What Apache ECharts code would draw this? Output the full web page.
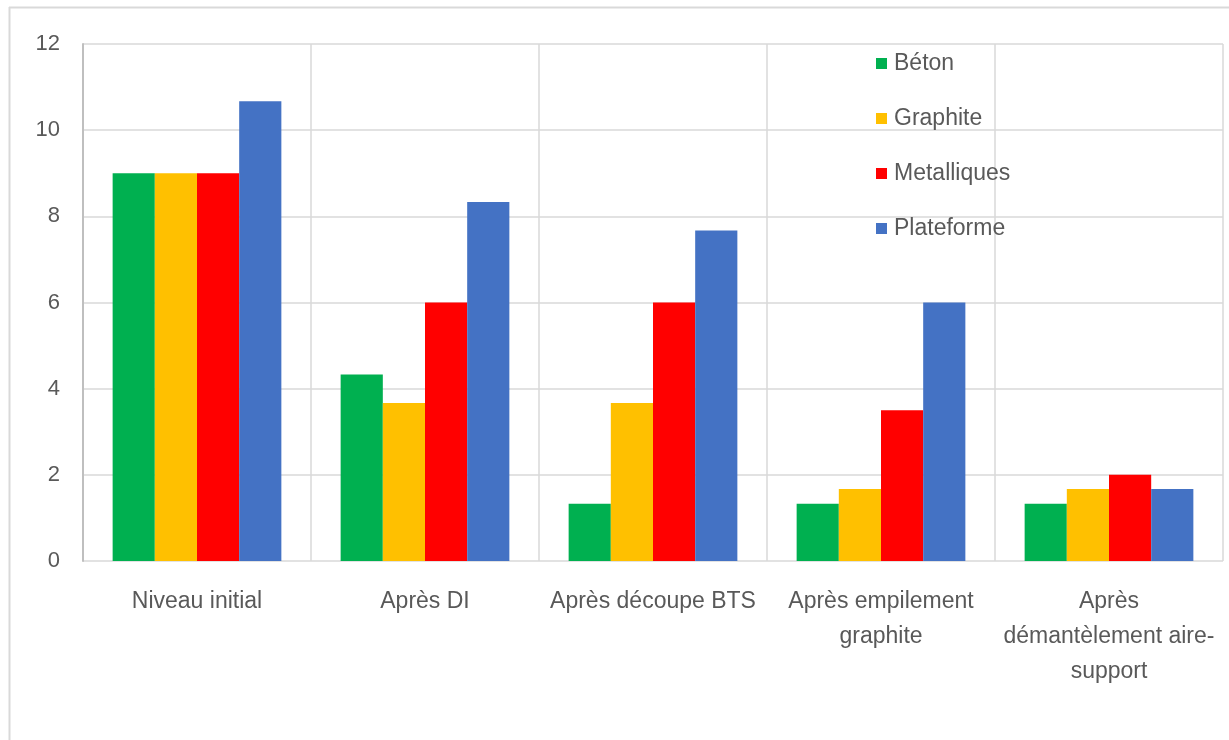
<!DOCTYPE html>
<html>
<head>
<meta charset="utf-8">
<script src="https://cdn.jsdelivr.net/npm/echarts@6/dist/echarts.min.js"></script>
<style>
  html, body { margin: 0; padding: 0; background: #ffffff; }
  #chart { width: 1229px; height: 740px; }
</style>
</head>
<body>
<div id="chart"></div>
<script>
// Stages of the dismantling sequence (x-axis categories)
const categories = [
  'Niveau initial',
  'Après DI',
  'Après découpe BTS',
  'Après empilement\ngraphite',
  'Après\ndémantèlement aire-\nsupport'
];

// Values per waste family
const beton       = [9, 4.33, 1.33, 1.33, 1.33];
const graphite    = [9, 3.67, 3.67, 1.67, 1.67];
const metalliques = [9, 6, 6, 3.5, 2];
const plateforme  = [10.67, 8.33, 7.67, 6, 1.67];

const seriesNames = ['Béton', 'Graphite', 'Metalliques', 'Plateforme'];
const seriesData = [beton, graphite, metalliques, plateforme];
const colors = ['#00B050', '#FFC000', '#FF0000', '#4472C4'];

const textGray = '#595959';
const font = 'Liberation Sans, Arial, sans-serif';

const chart = echarts.init(document.getElementById('chart'), null, { renderer: 'canvas' });

chart.setOption({
  animation: false,
  backgroundColor: '#ffffff',
  color: colors,
  graphic: [
    // chart frame
    { type: 'line', shape: { x1: 9, y1: 7.5, x2: 1229, y2: 7.5 }, style: { stroke: '#d9d9d9', lineWidth: 2 } },
    { type: 'line', shape: { x1: 9.5, y1: 7, x2: 9.5, y2: 740 }, style: { stroke: '#d9d9d9', lineWidth: 2 } }
  ],
  legend: {
    orient: 'vertical',
    left: 871,
    top: 47,
    itemWidth: 11,
    itemHeight: 11,
    itemGap: 32,
    icon: 'rect',
    textStyle: { color: textGray, fontSize: 23, lineHeight: 23, fontFamily: font, padding: [0, 0, 0, 2] },
    data: seriesNames
  },
  grid: { left: 83, right: 6, top: 44, bottom: 179 },
  xAxis: {
    type: 'category',
    data: categories,
    boundaryGap: true,
    axisLine: { show: false },
    axisTick: { show: false },
    splitLine: { show: true, interval: 0, lineStyle: { color: '#d9d9d9', width: 1.5 } },
    axisLabel: {
      interval: 0,
      margin: 23,
      color: textGray,
      fontSize: 23,
      fontFamily: font,
      lineHeight: 35
    }
  },
  yAxis: {
    type: 'value',
    min: 0,
    max: 12,
    interval: 2,
    axisLine: { show: true, lineStyle: { color: '#bfbfbf', width: 2 } },
    axisTick: { show: false },
    splitLine: { show: true, lineStyle: { color: '#d9d9d9', width: 1.5 } },
    axisLabel: { margin: 23, color: textGray, fontSize: 22, fontFamily: font }
  },
  series: seriesData.map((d, i) => ({
    name: seriesNames[i],
    type: 'bar',
    data: d,
    barGap: '0%',
    barCategoryGap: '26%',
    itemStyle: { color: colors[i] }
  }))
});
</script>
</body>
</html>
